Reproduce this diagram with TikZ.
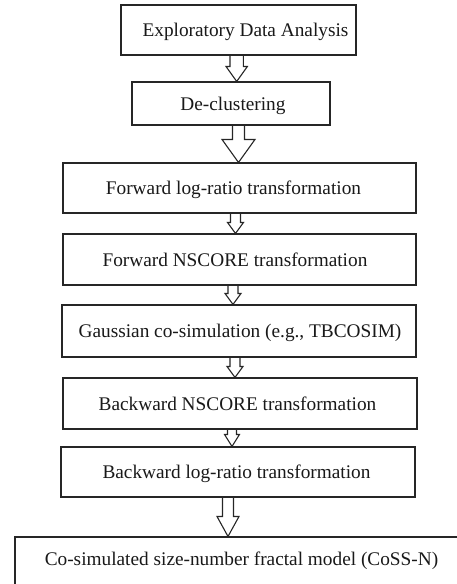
\documentclass[tikz,border=0pt]{standalone}
\usepackage{fontspec}
\setmainfont{Liberation Serif}
\usetikzlibrary{calc}
\tikzset{
  box/.style={draw=black!85, line width=1.1pt, fill=white, inner sep=0pt},
  lbl/.style={font=\fontsize{19.3}{22}\selectfont, inner sep=0pt, text=black!90, anchor=base},
  barrow/.style={draw=black!85, line width=1.1pt, line join=miter},
}
% from node, to node, x centre, shaft half width, head half width, head length
\newcommand\blockarrow[6]{%
  \draw[barrow] let \p1=(#1.south), \p2=(#2.north) in
    ({#3pt-#4pt},\y1) -- ({#3pt-#4pt},\y2+#6pt) -- ({#3pt-#5pt},\y2+#6pt) --
    (#3pt,\y2) -- ({#3pt+#5pt},\y2+#6pt) -- ({#3pt+#4pt},\y2+#6pt) -- ({#3pt+#4pt},\y1);}
\begin{document}
\begin{tikzpicture}[x=1pt,y=-1pt]
  \useasboundingbox (0,0) rectangle (457,584);
  \clip (0,0) rectangle (457,584);
  % boxes
  \node[box, minimum width=235pt, minimum height=50pt] (b1) at (238.5,30) {};
  \node[box, minimum width=198pt, minimum height=43pt] (b2) at (231,103.5) {};
  \node[box, minimum width=353pt, minimum height=50pt] (b3) at (239.5,188) {};
  \node[box, minimum width=353pt, minimum height=51pt] (b4) at (239.5,259.5) {};
  \node[box, minimum width=354pt, minimum height=52pt] (b5) at (239,331) {};
  \node[box, minimum width=354pt, minimum height=51pt] (b6) at (240,403.5) {};
  \node[box, minimum width=354pt, minimum height=50pt] (b7) at (238,472) {};
  \node[box, minimum width=460pt, minimum height=73pt] (b8) at (245,573.5) {};
  % labels
  \node[lbl] (t1) at (245.5,36.5) {Exploratory Data Analysis};
  \node[lbl] (t2) at (233,110) {De-clustering};
  \node[lbl] (t3) at (233.5,194.5) {Forward log-ratio transformation};
  \node[lbl] (t4) at (235,266) {Forward NSCORE transformation};
  \node[lbl] (t5) at (240,337.5) {Gaussian co-simulation (e.g., TBCOSIM)};
  \node[lbl] (t6) at (237.5,410) {Backward NSCORE transformation};
  \node[lbl] (t7) at (236.5,478.5) {Backward log-ratio transformation};
  \node[lbl] (t8) at (241.5,565) {Co-simulated size-number fractal model (CoSS-N)};
  % block arrows
  \blockarrow{b1}{b2}{236.7}{6.7}{10.7}{15}
  \blockarrow{b2}{b3}{238.5}{6}{16.5}{23}
  \blockarrow{b3}{b4}{235.5}{5}{8}{11}
  \blockarrow{b4}{b5}{233}{5}{8}{11}
  \blockarrow{b5}{b6}{235}{5}{8}{11}
  \blockarrow{b6}{b7}{232}{4.5}{7.5}{12}
  \blockarrow{b7}{b8}{228}{5.5}{11}{20}
\end{tikzpicture}
\end{document}
